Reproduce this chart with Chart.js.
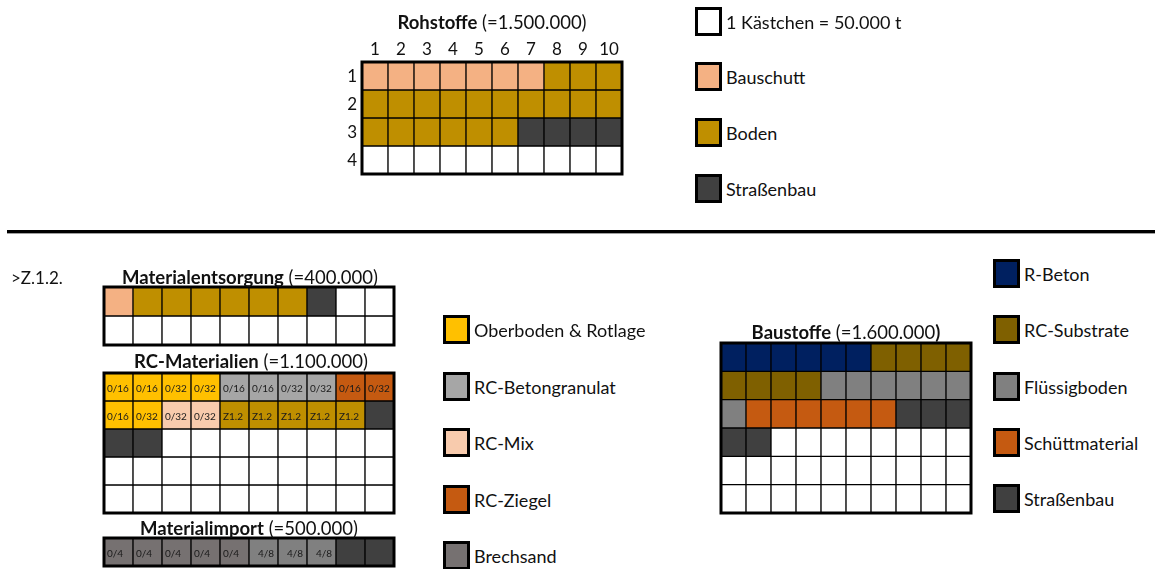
<!DOCTYPE html>
<html lang="de">
<head>
<meta charset="utf-8">
<title>Materialströme – Kästchendiagramm</title>
<script src="https://cdn.jsdelivr.net/npm/chart.js@4.4.1/dist/chart.umd.min.js"></script>
<style>
  html, body { margin: 0; padding: 0; background: #fff; }
  body { width: 1155px; height: 569px; position: relative; overflow: hidden;
         font-family: "Lato", "Open Sans", sans-serif; color: #111; }
  canvas.waffle { position: absolute; }
  .title { position: absolute; white-space: nowrap; font-size: 18.5px; transform: translate(-50%, -50%); }
  .title b { font-weight: 700; }
  .note { position: absolute; white-space: nowrap; font-size: 17px; transform: translateY(-50%); }
  .leg { position: absolute; display: flex; align-items: center; white-space: nowrap; font-size: 18px; }
  .leg .sw { width: 27px; height: 29px; border: 3px solid #000; box-sizing: border-box; margin-right: 4px; }
  .sep { position: absolute; left: 7px; width: 1148px; top: 230px; height: 3px; background: #000; }
  .sep2 { position: absolute; left: 7px; width: 1148px; top: 233px; height: 1px; background: #a0a0a0; }
</style>
</head>
<body>
<div class="sep"></div>
<div class="sep2"></div>
<script>
// ---- data: one cell = 50.000 t, cells filled row by row in runs ----
const columnLabels = ['1', '2', '3', '4', '5', '6', '7', '8', '9', '10'];
const rowLabels = ['1', '2', '3', '4'];

const rohstoffeCats   = ['Bauschutt', 'Boden', 'Straßenbau'];
const rohstoffeCounts = [7, 19, 4];

const entsorgungCats   = ['Bauschutt', 'Boden', 'Straßenbau'];
const entsorgungCounts = [1, 6, 1];

const rcCats   = ['Oberboden & Rotlage', 'RC-Betongranulat', 'RC-Ziegel', 'Oberboden & Rotlage', 'RC-Mix', 'Boden', 'Straßenbau'];
const rcCounts = [4, 4, 2, 2, 2, 5, 3];
const rcLabels = ['0/16', '0/16', '0/32', '0/32', '0/16', '0/16', '0/32', '0/32', '0/16', '0/32',
                  '0/16', '0/32', '0/32', '0/32', 'Z1.2', 'Z1.2', 'Z1.2', 'Z1.2', 'Z1.2', ''];

const importCats   = ['Brechsand', 'Körnung 4/8', 'Straßenbau'];
const importCounts = [5, 3, 2];
const importLabels = ['0/4', '0/4', '0/4', '0/4', '0/4', '4/8', '4/8', '4/8', '', ''];

const baustoffeCats   = ['R-Beton', 'RC-Substrate', 'Flüssigboden', 'Schüttmaterial', 'Straßenbau'];
const baustoffeCounts = [6, 8, 7, 6, 5];

const legendTop    = ['Bauschutt', 'Boden', 'Straßenbau'];
const legendMiddle = ['Oberboden & Rotlage', 'RC-Betongranulat', 'RC-Mix', 'RC-Ziegel', 'Brechsand'];
const legendRight  = ['R-Beton', 'RC-Substrate', 'Flüssigboden', 'Schüttmaterial', 'Straßenbau'];

// ---- styles ----
const colors = {
  'Bauschutt': '#F4B183',
  'Boden': '#BF8F00',
  'Straßenbau': '#404040',
  'Oberboden & Rotlage': '#FFC000',
  'RC-Betongranulat': '#A6A6A6',
  'RC-Mix': '#F8CBAD',
  'RC-Ziegel': '#C55A11',
  'Brechsand': '#767171',
  'Körnung 4/8': '#808080',
  'R-Beton': '#002060',
  'RC-Substrate': '#7F6000',
  'Flüssigboden': '#808080',
  'Schüttmaterial': '#C55A11',
  empty: '#FFFFFF'
};
const FONT = '"Lato", "Open Sans", sans-serif';
const COLS = 10;

function expandRuns(cats, counts, rows) {
  const cells = [];
  cats.forEach((c, i) => { for (let k = 0; k < counts[i]; k++) cells.push(c); });
  while (cells.length < rows * COLS) cells.push('empty');
  return cells;
}

// frame around the grid + small grain labels inside cells
const wafflePlugin = {
  id: 'waffleDecor',
  afterDatasetsDraw(chart) {
    const { ctx, chartArea: a } = chart;
    const labels = chart.options.plugins.waffleDecor.labels || [];
    const align = chart.options.plugins.waffleDecor.align || [];
    ctx.save();
    ctx.font = '10px ' + FONT;
    ctx.fillStyle = '#1a1a1a';
    ctx.textBaseline = 'middle';
    chart.data.datasets.forEach((ds, r) => {
      const meta = chart.getDatasetMeta(r);
      meta.data.forEach((bar, c) => {
        const txt = labels[r * COLS + c];
        if (!txt) return;
        const p = bar.getProps(['x', 'y', 'base', 'width'], true);
        const cy = (p.y + p.base) / 2 + 2;
        if (align[r * COLS + c] === 'right') {
          ctx.textAlign = 'right';
          ctx.fillText(txt, p.x + p.width / 2 - 4, cy);
        } else {
          ctx.textAlign = 'left';
          ctx.fillText(txt, p.x - p.width / 2 + 3, cy);
        }
      });
    });
    ctx.strokeStyle = '#000';
    ctx.lineWidth = 3;
    ctx.strokeRect(a.left, a.top, a.right - a.left, a.bottom - a.top);
    ctx.restore();
  }
};

// row numbers of the first grid, centred on each row
const rowTickPlugin = {
  id: 'rowTicks',
  afterDraw(chart) {
    const { ctx, chartArea: a, scales: { y } } = chart;
    ctx.save();
    ctx.font = '17px ' + FONT;
    ctx.fillStyle = '#111';
    ctx.textAlign = 'right';
    ctx.textBaseline = 'middle';
    rowLabels.forEach((lbl, i) => {
      ctx.fillText(lbl, a.left - 5, y.getPixelForValue(i + 0.5) + 1);
    });
    ctx.restore();
  }
};

function waffle(box, rows, cats, counts, opts = {}) {
  const cells = expandRuns(cats, counts, rows);
  const axisW = opts.axes ? 32 : 0;
  const axisH = opts.axes ? 30 : 0;
  const pad = 3;
  const canvas = document.createElement('canvas');
  canvas.className = 'waffle';
  const cw = box.w + axisW + pad * 2, chh = box.h + axisH + pad * 2;
  canvas.width = cw; canvas.height = chh;
  canvas.style.width = cw + 'px'; canvas.style.height = chh + 'px';
  canvas.style.left = (box.x - axisW - pad) + 'px';
  canvas.style.top = (box.y - axisH - pad) + 'px';
  document.body.appendChild(canvas);

  const datasets = [];
  for (let r = 0; r < rows; r++) {
    const rowCells = cells.slice(r * COLS, (r + 1) * COLS);
    datasets.push({
      label: 'Reihe ' + (r + 1),
      data: rowCells.map(() => 1),
      backgroundColor: rowCells.map(c => colors[c]),
      borderColor: '#000',
      borderWidth: 1,
      borderSkipped: false,
      categoryPercentage: 1,
      barPercentage: 1
    });
  }

  return new Chart(canvas, {
    type: 'bar',
    data: { labels: columnLabels, datasets },
    options: {
      responsive: false,
      animation: false,
      devicePixelRatio: 1,
      layout: { padding: pad },
      plugins: {
        legend: { display: false },
        tooltip: { enabled: false },
        waffleDecor: { labels: opts.labels || [], align: opts.align || [] }
      },
      scales: {
        x: {
          display: !!opts.axes, position: 'top', stacked: true,
          grid: { display: false, drawTicks: false }, border: { display: false },
          ticks: { padding: 2, color: '#111', font: { family: FONT, size: 17 } },
          afterFit(s) { s.height = axisH; }
        },
        y: {
          display: !!opts.axes, stacked: true, reverse: true, min: 0, max: rows,
          grid: { display: false, drawTicks: false }, border: { display: false },
          ticks: { display: false },
          afterFit(s) { s.width = axisW; }
        }
      }
    },
    plugins: opts.axes ? [wafflePlugin, rowTickPlugin] : [wafflePlugin]
  });
}

function title(x, y, bold, rest, boldTail) {
  const d = document.createElement('div');
  d.className = 'title';
  d.style.left = x + 'px'; d.style.top = y + 'px';
  d.innerHTML = '<b>' + bold + '</b> ' + rest + (boldTail ? '<b>' + boldTail + '</b>' : '');
  document.body.appendChild(d);
}

function legend(x, tops, names) {
  names.forEach((n, i) => {
    const d = document.createElement('div');
    d.className = 'leg';
    d.style.left = x + 'px'; d.style.top = tops[i] + 'px';
    const sw = document.createElement('div');
    sw.className = 'sw';
    sw.style.background = colors[n] || '#fff';
    const t = document.createElement('span');
    t.textContent = n;
    d.appendChild(sw); d.appendChild(t);
    document.body.appendChild(d);
  });
}

// ---- grids ----
waffle({ x: 362, y: 62, w: 260, h: 112 }, 4, rohstoffeCats, rohstoffeCounts, { axes: true });
waffle({ x: 104, y: 287, w: 290, h: 58 }, 2, entsorgungCats, entsorgungCounts);
waffle({ x: 104, y: 373, w: 290, h: 140 }, 5, rcCats, rcCounts, { labels: rcLabels });
waffle({ x: 104, y: 538, w: 290, h: 28 }, 1, importCats, importCounts,
       { labels: importLabels, align: importLabels.map(l => (l === '4/8' ? 'right' : 'left')) });
waffle({ x: 721, y: 343, w: 250, h: 170 }, 6, baustoffeCats, baustoffeCounts);

// ---- titles ----
title(492, 22, 'Rohstoffe', '(=1.500.000)');
title(250, 277, 'Materialentsorgung', '(=400.000)');
title(251, 361, 'RC-Materialien', '(=1.100.000)');
title(249, 528, 'Materialimport', '(=500.000)');
title(846, 332, 'Baustoffe', '(=1.600.000', ')');

const z = document.createElement('div');
z.className = 'note';
z.style.left = '11px'; z.style.top = '277px';
z.textContent = '>Z.1.2.';
document.body.appendChild(z);

// ---- legends ----
(function () {
  const d = document.createElement('div');
  d.className = 'leg';
  d.style.left = '695px'; d.style.top = '7px';
  d.innerHTML = '<div class="sw" style="background:#fff"></div><span>1 Kästchen = 50.000 t</span>';
  document.body.appendChild(d);
})();
legend(695, [62, 118, 174], legendTop);
legend(443, [315, 372, 428, 485, 541], legendMiddle);
legend(993, [259, 315, 372, 428, 484], legendRight);
</script>
</body>
</html>
